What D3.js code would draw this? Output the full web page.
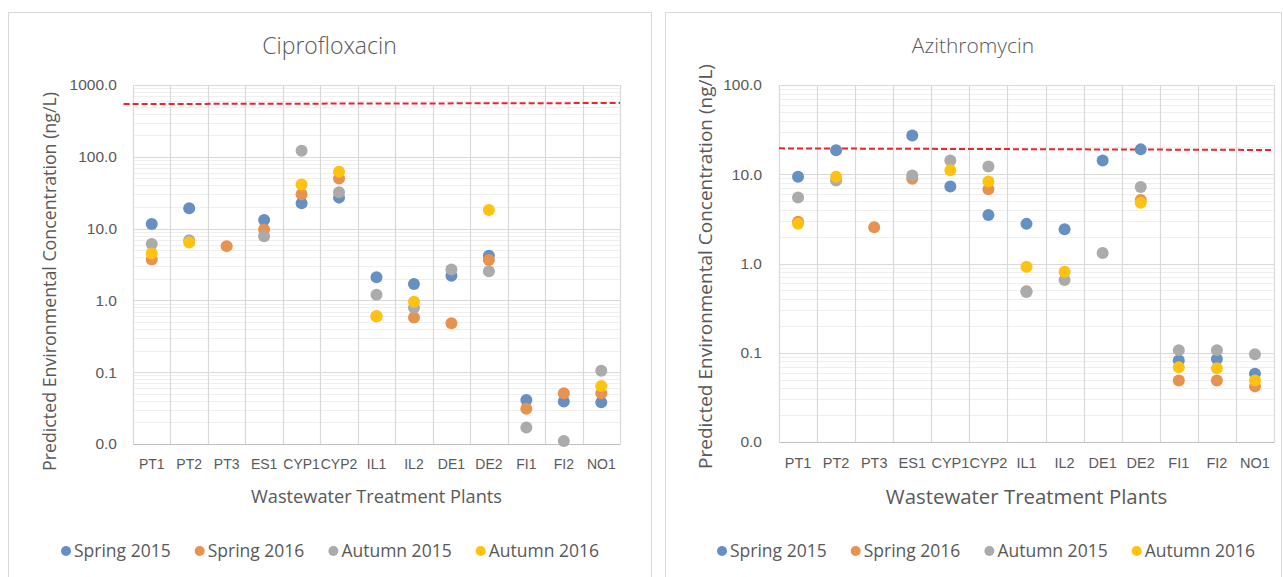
<!DOCTYPE html>
<html>
<head>
<meta charset="utf-8">
<script src="https://cdn.jsdelivr.net/npm/d3@7"></script>
<style>
  body { margin: 0; background: #fff; }
  svg { display: block; font-family: "Open Sans", "Noto Sans", sans-serif; }
</style>
</head>
<body>
<svg id="chart" width="1283" height="577"></svg>
<script>
// plants on the x axis
var plants = ['PT1', 'PT2', 'PT3', 'ES1', 'CYP1', 'CYP2', 'IL1', 'IL2', 'DE1', 'DE2', 'FI1', 'FI2', 'NO1'];
var seasons = ['Spring 2015', 'Spring 2016', 'Autumn 2015', 'Autumn 2016'];
var seasonColors = ['#6690C2', '#E8924F', '#ABABAB', '#FFC211'];

// Ciprofloxacin, ng/L (null = no sample)
var cipSpring2015 = [11.6, 19.2, null, 13.2, 22.5, 27, 2.1, 1.69, 2.2, 4.2, 0.041, 0.039, 0.038];
var cipSpring2016 = [3.7, null, 5.7, 9.7, 30, 50, 0.6, 0.58, 0.48, 3.66, 0.031, 0.051, 0.051];
var cipAutumn2015 = [6.1, 6.9, null, 7.8, 121, 32, 1.2, 0.79, 2.7, 2.55, 0.017, 0.011, 0.105];
var cipAutumn2016 = [4.5, 6.4, null, null, 41, 62, 0.6, 0.96, null, 18.2, null, null, 0.064];
var cipThreshold = [543, 561];

// Azithromycin, ng/L
var aziSpring2015 = [9.4, 18.6, null, 27.1, 7.3, 3.5, 2.78, 2.42, 14.3, 19.0, 0.082, 0.085, 0.058];
var aziSpring2016 = [2.94, null, 2.55, 8.9, null, 6.8, 0.49, null, null, 5.15, 0.049, 0.049, 0.042];
var aziAutumn2015 = [5.5, 8.5, null, 9.7, 14.3, 12.2, 0.48, 0.655, 1.31, 7.2, 0.107, 0.107, 0.096];
var aziAutumn2016 = [2.78, 9.4, null, null, 11.1, 8.3, 0.92, 0.81, null, 4.8, 0.069, 0.067, 0.049];
var aziThreshold = [19.5, 18.7];

var svg = d3.select('#chart');

function drawPanel(opts) {
    var g = svg.append('g');
    var p = opts.plot;

    // outer chart frame
    g.append('rect')
        .attr('x', opts.frame[0] + 0.5).attr('y', opts.frame[1] + 0.5)
        .attr('width', opts.frame[2]).attr('height', opts.frame[3])
        .attr('fill', '#fff').attr('stroke', '#D9D9D9');

    var x = d3.scaleBand().domain(plants).range([p.left, p.right]);
    var y = d3.scaleLog().domain(opts.domain).range([p.bottom, p.top]);

    // minor log grid
    var minor = [];
    var lo = Math.round(Math.log10(opts.domain[0])),
        hi = Math.round(Math.log10(opts.domain[1]));
    for (var e = lo; e < hi; e++) {
        for (var k = 2; k <= 9; k++) { minor.push(k * Math.pow(10, e)); }
    }
    g.append('g').selectAll('line').data(minor).enter().append('line')
        .attr('x1', p.left).attr('x2', p.right)
        .attr('y1', function (d) { return Math.round(y(d)) + 0.5; })
        .attr('y2', function (d) { return Math.round(y(d)) + 0.5; })
        .attr('stroke', '#EFEFEF');

    var major = d3.range(lo, hi + 1).map(function (e) { return Math.pow(10, e); });

    // major grid
    g.append('g').selectAll('line').data(major).enter().append('line')
        .attr('x1', p.left).attr('x2', p.right)
        .attr('y1', function (d) { return Math.round(y(d)) + 0.5; })
        .attr('y2', function (d) { return Math.round(y(d)) + 0.5; })
        .attr('stroke', '#D9D9D9').attr('stroke-width', 1.2);

    // category separators
    var edges = plants.map(function (d) { return x(d); }).concat([p.right]);
    g.append('g').selectAll('line').data(edges).enter().append('line')
        .attr('x1', function (d) { return Math.round(d) + 0.5; })
        .attr('x2', function (d) { return Math.round(d) + 0.5; })
        .attr('y1', p.top).attr('y2', p.bottom)
        .attr('stroke', '#D9D9D9').attr('stroke-width', 1.2);

    // y axis labels
    var yAxis = d3.axisLeft(y).tickValues(major).tickFormat(d3.format('.1f')).tickSize(0).tickPadding(opts.tickPad);
    var ya = g.append('g').attr('transform', 'translate(' + p.left + ',0)').call(yAxis);
    ya.select('.domain').remove();
    ya.selectAll('text').attr('fill', '#595959').style('font-size', opts.tickSize + 'px');

    // x axis
    var xAxis = d3.axisBottom(x).tickSize(0).tickPadding(opts.xPad);
    var xa = g.append('g').attr('transform', 'translate(0,' + p.bottom + ')').call(xAxis);
    xa.select('.domain').attr('stroke', '#BFBFBF').attr('stroke-width', 1.2);
    xa.selectAll('text').attr('fill', '#595959').style('font-size', opts.xTickSize + 'px');

    // threshold line
    var tx = d3.scaleLinear().domain([0, plants.length]).range([p.left, p.right]);
    g.append('line')
        .attr('x1', tx(opts.thresholdFrom)).attr('x2', tx(plants.length))
        .attr('y1', y(opts.threshold[0])).attr('y2', y(opts.threshold[1]))
        .attr('stroke', '#E8262B').attr('stroke-width', 2)
        .attr('stroke-dasharray', '6,3');

    // points
    opts.series.forEach(function (vals, si) {
        var pts = plants.map(function (d, i) { return { plant: d, v: vals[i] }; })
            .filter(function (d) { return d.v !== null; });
        g.append('g').selectAll('circle').data(pts).enter().append('circle')
            .attr('cx', function (d) { return x(d.plant) + x.bandwidth() / 2; })
            .attr('cy', function (d) { return y(d.v); })
            .attr('r', 6)
            .attr('fill', seasonColors[si]);
    });

    // titles
    var cx = opts.frame[0] + opts.frame[2] / 2;
    g.append('text').attr('x', cx).attr('y', 46).attr('dy', '0.35em')
        .attr('text-anchor', 'middle').attr('fill', '#595959')
        .style('font-size', opts.titleSize + 'px').style('font-weight', 300).text(opts.title);

    g.append('text')
        .attr('transform', 'translate(' + opts.yTitleX + ',' + ((p.top + p.bottom) / 2 + opts.yTitleShift) + ') rotate(-90)')
        .attr('text-anchor', 'middle').attr('dy', '0.35em').attr('fill', '#595959')
        .style('font-size', opts.yTitleSize + 'px')
        .text('Predicted Environmental Concentration (ng/L)');

    g.append('text').attr('x', (p.left + p.right) / 2).attr('y', 497).attr('dy', '0.35em')
        .attr('text-anchor', 'middle').attr('fill', '#595959')
        .style('font-size', opts.xTitleSize + 'px').text('Wastewater Treatment Plants');

    // legend
    var lx = opts.legendX;
    seasons.forEach(function (s, i) {
        var item = g.append('g').attr('transform', 'translate(' + lx + ',551)');
        item.append('circle').attr('cx', 5).attr('cy', 0).attr('r', 5).attr('fill', seasonColors[i]);
        var t = item.append('text').attr('x', 13).attr('dy', '0.35em').attr('fill', '#595959')
            .style('font-size', opts.legendSize + 'px').text(s);
        lx += 13 + t.node().getComputedTextLength() + opts.legendGap;
    });
}

drawPanel({
    frame: [8, 12, 643, 570],
    plot: { left: 133, right: 620, top: 85, bottom: 444 },
    domain: [0.01, 1000],
    series: [cipSpring2015, cipSpring2016, cipAutumn2015, cipAutumn2016],
    threshold: cipThreshold,
    thresholdFrom: -0.25,
    title: 'Ciprofloxacin',
    titleSize: 23, tickSize: 15.5, tickPad: 16, xTickSize: 14, xPad: 15,
    yTitleSize: 17.8, xTitleSize: 18.2, yTitleX: 50, yTitleShift: 17,
    legendX: 61, legendGap: 24, legendSize: 17.5
});

drawPanel({
    frame: [665, 12, 616, 570],
    plot: { left: 779, right: 1274, top: 85, bottom: 442 },
    domain: [0.01, 100],
    series: [aziSpring2015, aziSpring2016, aziAutumn2015, aziAutumn2016],
    threshold: aziThreshold,
    thresholdFrom: 0,
    title: 'Azithromycin',
    titleSize: 21, tickSize: 15.5, tickPad: 17, xTickSize: 14.5, xPad: 16,
    yTitleSize: 19, xTitleSize: 20.4, yTitleX: 705, yTitleShift: 3,
    legendX: 717, legendGap: 24, legendSize: 17.5
});
</script>
</body>
</html>
